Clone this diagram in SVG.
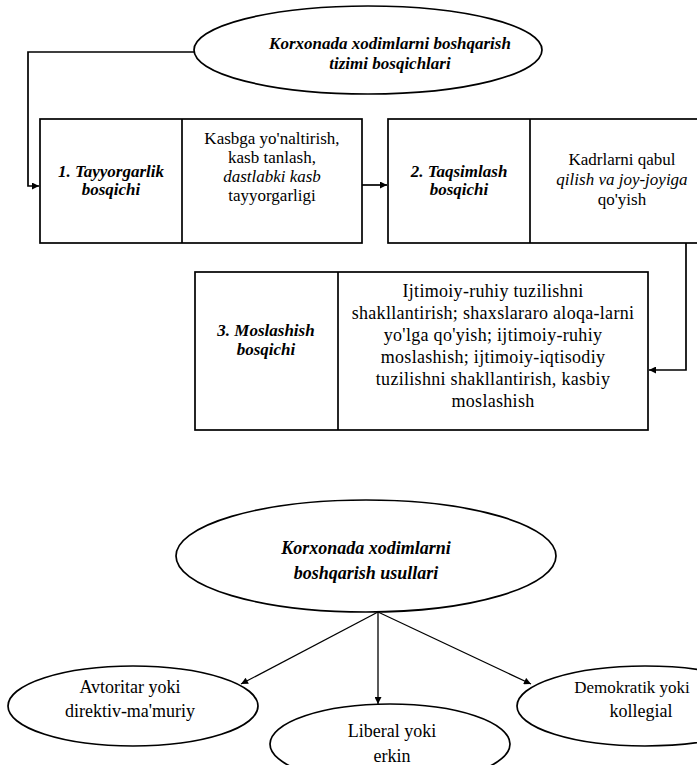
<svg xmlns="http://www.w3.org/2000/svg" width="697" height="765" viewBox="0 0 697 765">
<style>
.shape{fill:#fff;stroke:#000;stroke-width:1.7}
.line{fill:none;stroke:#000;stroke-width:1.7}
.thin{fill:none;stroke:#000;stroke-width:1.3}
.t{font-family:"Liberation Serif","Times New Roman",serif;font-size:17px;fill:#000;text-anchor:middle}
.bi{font-weight:bold;font-style:italic;font-size:17px}
.it{font-style:italic}
.big{font-size:18px}
.s3{font-size:18px;letter-spacing:0.3px}
</style>
<defs>
<marker id="arr" viewBox="0 0 10 10" refX="10" refY="5" markerWidth="9" markerHeight="7" markerUnits="userSpaceOnUse" orient="auto">
<path d="M0,0 L10,5 L0,10 z" fill="#000"/>
</marker>
</defs>
<rect width="697" height="765" fill="#fff"/>
<g id="connectors">
<path class="line" d="M194,52 H28 V186 H39" marker-end="url(#arr)"/>
<path class="line" d="M362,185 H387" marker-end="url(#arr)"/>
<path class="line" d="M686,243 V370 H649" marker-end="url(#arr)"/>
<path class="thin" d="M378,612 L241,684" marker-end="url(#arr)"/>
<path class="thin" d="M378,612 V704" marker-end="url(#arr)"/>
<path class="thin" d="M378,612 L531,684" marker-end="url(#arr)"/>
</g>
<g id="top-ellipse">
<ellipse class="shape" cx="368" cy="50" rx="174" ry="44"/>
<text class="t bi" x="390" y="49">Korxonada xodimlarni boshqarish</text>
<text class="t bi" x="390" y="69">tizimi bosqichlari</text>
</g>
<g id="stage1">
<rect class="shape" x="40" y="119" width="322" height="124"/>
<line class="line" x1="182" y1="119" x2="182" y2="243"/>
<text class="t bi" x="111" y="177">1. Tayyorgarlik</text>
<text class="t bi" x="111" y="195">bosqichi</text>
<text class="t" x="272" y="144">Kasbga yo'naltirish,</text>
<text class="t" x="272" y="163">kasb tanlash,</text>
<text class="t it" x="272" y="182">dastlabki kasb</text>
<text class="t" x="272" y="201">tayyorgarligi</text>
</g>
<g id="stage2">
<rect class="shape" x="388" y="119" width="326" height="124"/>
<line class="line" x1="530" y1="119" x2="530" y2="243"/>
<text class="t bi" x="459" y="177">2. Taqsimlash</text>
<text class="t bi" x="459" y="195">bosqichi</text>
<text class="t" x="622" y="165">Kadrlarni qabul</text>
<text class="t it" x="622" y="185">qilish va joy-joyiga</text>
<text class="t" x="622" y="205">qo'yish</text>
</g>
<g id="stage3">
<rect class="shape" x="195" y="272" width="453" height="158"/>
<line class="line" x1="338" y1="272" x2="338" y2="430"/>
<text class="t bi" x="266" y="336">3. Moslashish</text>
<text class="t bi" x="266" y="355">bosqichi</text>
<text class="t s3" x="493" y="297">Ijtimoiy-ruhiy  tuzilishni</text>
<text class="t s3" x="493" y="319">shakllantirish; shaxslararo aloqa-larni</text>
<text class="t s3" x="493" y="341">yo'lga qo'yish; ijtimoiy-ruhiy</text>
<text class="t s3" x="493" y="363">moslashish; ijtimoiy-iqtisodiy</text>
<text class="t s3" x="493" y="385">tuzilishni shakllantirish, kasbiy</text>
<text class="t s3" x="493" y="407">moslashish</text>
</g>
<g id="methods">
<ellipse class="shape" cx="366" cy="556" rx="190" ry="56"/>
<text class="t bi big" x="366" y="554">Korxonada xodimlarni</text>
<text class="t bi big" x="366" y="579">boshqarish usullari</text>
</g>
<g id="authoritarian">
<ellipse class="shape" cx="133" cy="706" rx="125" ry="40"/>
<text class="t big" x="130" y="693">Avtoritar yoki</text>
<text class="t big" x="130" y="717">direktiv-ma'muriy</text>
</g>
<g id="liberal">
<ellipse class="shape" cx="390" cy="744" rx="120" ry="40"/>
<text class="t big" x="392" y="737">Liberal yoki</text>
<text class="t big" x="392" y="762">erkin</text>
</g>
<g id="democratic">
<ellipse class="shape" cx="645" cy="706" rx="128" ry="40"/>
<text class="t" x="632" y="693">Demokratik yoki</text>
<text class="t big" x="641" y="717">kollegial</text>
</g>
</svg>
